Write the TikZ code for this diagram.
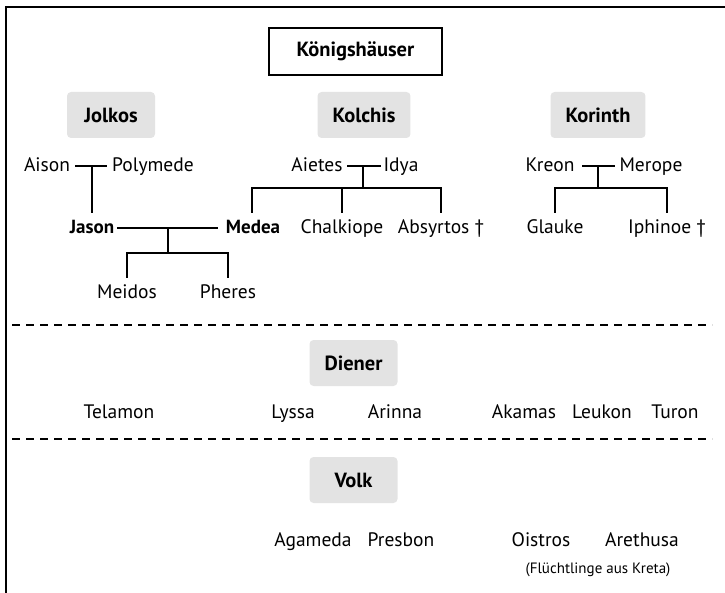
\documentclass[tikz,border=0pt]{standalone}
\usepackage{fontspec}
\setmainfont{PT Sans}
\usetikzlibrary{calc}
\definecolor{boxgray}{HTML}{E3E3E3}
\begin{document}
\begin{tikzpicture}[x=1pt,y=-1pt,
  nm/.style={font=\fontsize{19.5}{22}\selectfont, inner xsep=3pt, inner ysep=0pt, anchor=base},
  nmb/.style={nm, font=\bfseries\fontsize{19}{22}\selectfont},
  small/.style={font=\fontsize{15}{17}\selectfont, inner sep=0pt, anchor=base},
  ttl/.style={font=\bfseries\fontsize{20.5}{23}\selectfont},
  house/.style={ttl, fill=boxgray, rounded corners=4pt, minimum height=46pt, inner xsep=15pt, minimum width=88pt},
  topbox/.style={ttl, draw=black, line width=1.3pt, fill=white, minimum width=173pt, minimum height=47pt},
  conn/.style={line width=1.3pt},
  sep/.style={line width=1.1pt, dash pattern=on 8pt off 6pt},
  frame/.style={line width=2.2pt}]
\useasboundingbox (0,0) rectangle (725,593);
% frame
\draw[frame] (725,7) -- (6,7) -- (6,593);

% titles
\node[topbox] (koenig) at (355.5,51.5) {Königshäuser};
\node[house] (jolkos) at (111,115) {Jolkos};
\node[house] (kolchis) at (364,115) {Kolchis};
\node[house] (korinth) at (598,115) {Korinth};

% row coordinates
\coordinate (r1) at (0,166);
\coordinate (r2) at (0,228);
\coordinate (top2) at (0,213);
\coordinate (top3) at (0,278);

% Jolkos family
\node[nm] (aison) at (47,172) {Aison};
\node[nm] (polymede) at (153,172) {Polymede};
\node[nmb] (jason) at (92,234) {Jason};
\node[nmb] (medea) at (253,234) {Medea};
\node[nm] (meidos) at (127,299) {Meidos};
\node[nm] (pheres) at (228,299) {Pheres};
\coordinate (jA) at (jason |- r1);
\draw[conn] ([xshift=-17pt]jA) -- ([xshift=15pt]jA);
\draw[conn] (jA) -- (jason |- top2);
\draw[conn, shorten >=5pt] (jason.east |- r2) -- (medea.west |- r2);
\coordinate (jm) at (168,228);
\coordinate (jmbar) at (168,253);
\draw[conn] (jm) -- (jmbar);
\draw[conn] (meidos |- top3) |- (jmbar) -| (pheres |- top3);

% Kolchis family
\node[nm] (aietes) at (317,172) {Aietes};
\node[nm] (idya) at (401,172) {Idya};
\node[nm] (chalkiope) at (342,234) {Chalkiope};
\node[nm] (absyrtos) at (441,234) {Absyrtos †};
\coordinate (kA) at (363,166);
\coordinate (kbar) at (363,188);
\draw[conn] ([xshift=-16pt]kA) -- ([xshift=18pt]kA);
\draw[conn] (kA) -- (kbar);
\draw[conn] ([xshift=-1pt]medea.center |- top2) |- (kbar) -| (absyrtos |- top2);
\draw[conn] (chalkiope |- top2) -- (chalkiope |- kbar);

% Korinth family
\node[nm] (kreon) at (550,172) {Kreon};
\node[nm] (merope) at (651,172) {Merope};
\node[nm] (glauke) at (555,234) {Glauke};
\node[nm] (iphinoe) at (667,234) {Iphinoe †};
\coordinate (rA) at (598,166);
\coordinate (rbar) at (598,188);
\draw[conn] ([xshift=-16pt]rA) -- ([xshift=17pt]rA);
\draw[conn] (rA) -- (rbar);
\draw[conn] (glauke |- top2) |- (rbar) -| (iphinoe |- top2);

% separators
\coordinate (s1a) at (12,325);
\coordinate (s1b) at (712,325);
\coordinate (s2a) at (12,439);
\coordinate (s2b) at (712,439);
\draw[sep] (s1a) -- (s1b);
\draw[sep] (s2a) -- (s2b);

% Diener
\node[house] (diener) at (353.5,363) {Diener};
\node[nm] (telamon) at (119,418) {Telamon};
\node[nm] (lyssa) at (293,418) {Lyssa};
\node[nm] (arinna) at (395,418) {Arinna};
\node[nm] (akamas) at (524,418) {Akamas};
\node[nm] (leukon) at (602,418) {Leukon};
\node[nm] (turon) at (675,418) {Turon};

% Volk
\node[house] (volk) at (353.5,480) {Volk};
\node[nm] (agameda) at (313,546) {Agameda};
\node[nm] (presbon) at (401,546) {Presbon};
\node[nm] (oistros) at (541,546) {Oistros};
\node[nm] (arethusa) at (642,546) {Arethusa};
\node[small] (fluecht) at (598,573) {(Flüchtlinge aus Kreta)};
\end{tikzpicture}
\end{document}
